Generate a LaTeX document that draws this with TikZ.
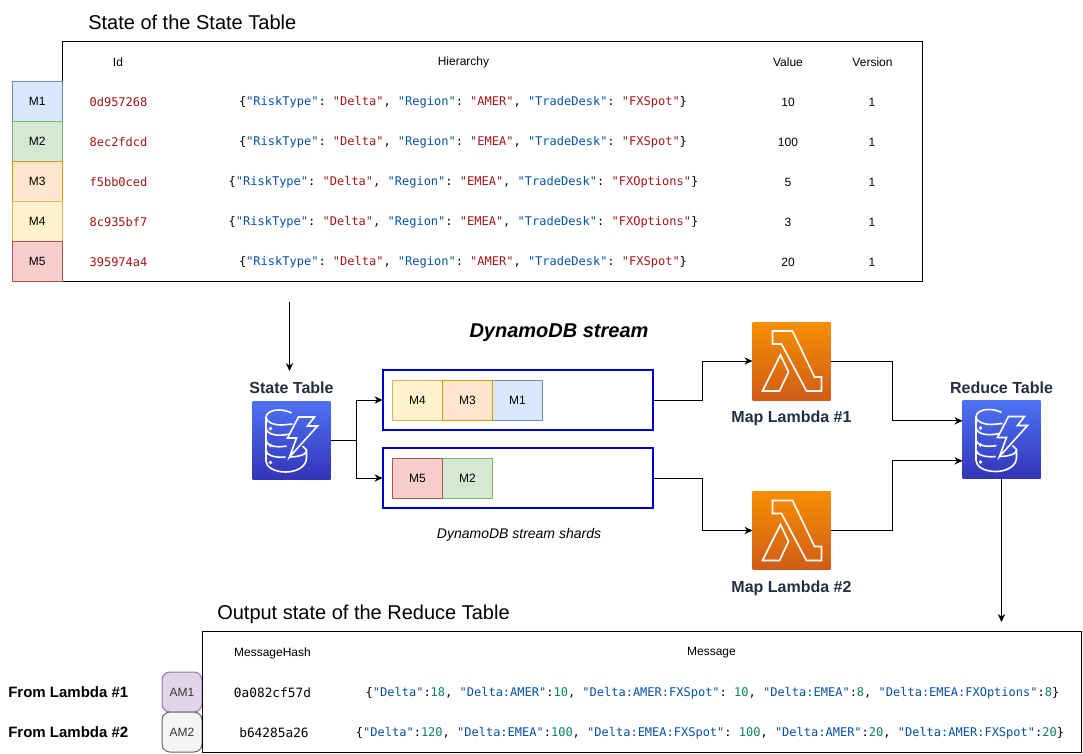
\documentclass[tikz,border=0pt]{standalone}
\usepackage{fontspec}
\usepackage{xcolor}
\usepackage{tikz}
\usetikzlibrary{arrows.meta,positioning}
\setmainfont{Liberation Sans}
\newfontfamily\jsonfont{DejaVu Sans Mono}
\definecolor{awsink}{HTML}{232f3e}
\definecolor{shardblue}{HTML}{0000cc}
\definecolor{jsonblue}{HTML}{0451a5}
\definecolor{jsonred}{HTML}{a31515}
\definecolor{jsongreen}{HTML}{098658}
\definecolor{dynamotop}{HTML}{4d72f3}
\definecolor{dynamobot}{HTML}{3334b9}
\definecolor{lambdatop}{HTML}{f78e04}
\definecolor{lambdabot}{HTML}{d05c17}
\definecolor{bluefill}{HTML}{dae8fc}
\definecolor{blueline}{HTML}{6c8ebf}
\definecolor{greenfill}{HTML}{d5e8d4}
\definecolor{greenline}{HTML}{82b366}
\definecolor{orangefill}{HTML}{ffe6cc}
\definecolor{orangeline}{HTML}{d79b00}
\definecolor{yellowfill}{HTML}{fff2cc}
\definecolor{yellowline}{HTML}{d6b656}
\definecolor{redfill}{HTML}{f8cecc}
\definecolor{redline}{HTML}{b85450}
\definecolor{purplefill}{HTML}{e1d5e7}
\definecolor{purpleline}{HTML}{9673a6}
\definecolor{greyfill}{HTML}{f5f5f5}
\definecolor{greyline}{HTML}{666666}
\newcommand{\jkey}[1]{\textcolor{jsonblue}{"#1"}}
\newcommand{\jval}[1]{\textcolor{jsonred}{"#1"}}
\newcommand{\jnum}[1]{\textcolor{jsongreen}{#1}}
\newcommand{\jrow}[2]{\{\jkey{RiskType}: \jval{Delta}, \jkey{Region}: \jval{#1}, \jkey{TradeDesk}: \jval{#2}\}}

\begin{document}
\begin{tikzpicture}[
  x=0.75pt, y=0.75pt,
  tablebox/.style={rectangle, draw=black, line width=0.75pt, inner sep=0pt, outer sep=0pt},
  msg/.style={rectangle, line width=0.75pt, minimum width=37.5pt, minimum height=30pt,
    inner sep=0pt, outer sep=0pt, font=\fontsize{9}{11}\selectfont},
  mblue/.style={msg, fill=bluefill, draw=blueline},
  mgreen/.style={msg, fill=greenfill, draw=greenline},
  morange/.style={msg, fill=orangefill, draw=orangeline},
  myellow/.style={msg, fill=yellowfill, draw=yellowline},
  mred/.style={msg, fill=redfill, draw=redline},
  head/.style={inner sep=0pt, font=\fontsize{9}{11}\selectfont},
  code/.style={inner sep=0pt, font=\fontsize{9}{11}\selectfont\jsonfont\frenchspacing},
  hash/.style={inner sep=0pt, font=\fontsize{9.6}{11}\selectfont\jsonfont},
  title/.style={inner sep=0pt, anchor=west, font=\fontsize{15}{18}\selectfont},
  iconlabel/.style={inner sep=0pt, text=awsink, font=\fontsize{12}{14}\selectfont\bfseries},
  fromlabel/.style={inner sep=0pt, anchor=west, font=\fontsize{11.25}{13}\selectfont\bfseries},
  amsg/.style={msg, rounded corners=6pt, minimum width=30pt, text=black!80},
  shard/.style={rectangle, draw=shardblue, line width=1.5pt, minimum width=202.5pt, minimum height=45pt,
    inner sep=0pt, outer sep=0pt},
  dynamo/.style={rectangle, minimum size=58.5pt, inner sep=0pt, outer sep=0pt,
    top color=dynamotop, bottom color=dynamobot},
  lambda/.style={rectangle, minimum size=58.5pt, inner sep=0pt, outer sep=0pt,
    top color=lambdatop, bottom color=lambdabot},
  glyph/.style={draw=white, line width=1.2pt, line join=miter},
  arr/.style={-{Stealth[length=6pt,width=5.5pt]}, line width=0.75pt, color=black},
  dynamoglyph/.pic={
    \draw[glyph] (39,-12) .. controls (35,-10) and (31,-9) .. (26,-9) .. controls (18,-9) and (13.5,-12.5) .. (13.5,-16.5)
      .. controls (13.5,-21) and (21,-24) .. (29,-24) -- (40,-23);
    \draw[glyph] (13.5,-16.5) -- (13.5,-60) .. controls (13.5,-66) and (22,-71) .. (33,-71) .. controls (45,-71) and (54,-65) .. (54,-57)
      -- (54,-49) -- (50,-45);
    \draw[glyph] (13.5,-28) .. controls (15,-33) and (24,-36) .. (37,-33);
    \draw[glyph] (13.5,-40) .. controls (15,-45) and (24,-47) .. (34,-45);
    \draw[glyph] (13.5,-50) .. controls (15,-55) and (24,-57) .. (33,-56);
    \draw[glyph] (37,-56) .. controls (44,-56) and (54,-54) .. (54,-50);
    \draw[glyph] (46,-16) -- (62,-16) -- (55,-25) -- (65,-25) -- (37,-56) -- (44,-37) -- (35,-37) -- cycle;
    \fill[white] (18,-27.5) circle (1.8) (18,-44.5) circle (1.8) (18,-61.5) circle (1.8);
  },
  lambdaglyph/.pic={
    \draw[glyph] (20,-9) -- (40,-9) -- (62,-55) -- (69,-55) -- (69,-69) -- (54,-69) -- (29,-22) -- (20,-22) -- cycle;
    \draw[glyph] (28,-33) -- (36,-50) -- (27,-69) -- (10,-69) -- cycle;
  }
]
\useasboundingbox (0,0) rectangle (1083,-754);
% source table
\node[title] (statetitle) at (88,-22) {State of the State Table};
\node[tablebox, minimum width=645pt, minimum height=180pt] (statetable) at (492,-161) {};
\node[mblue, minimum width=37.125pt] (mone) at (37.25,-101) {M1};
\node[mgreen, minimum width=37.125pt, below=0pt of mone] (mtwo) {M2};
\node[morange, minimum width=37.125pt, below=0pt of mtwo] (mthree) {M3};
\node[myellow, minimum width=37.125pt, below=0pt of mthree] (mfour) {M4};
\node[mred, minimum width=37.125pt, below=0pt of mfour] (mfive) {M5};
\node[head] (idhead) at (118,-62) {Id};
\node[head] (hierhead) at (463.5,-62) {Hierarchy};
\node[head] (valuehead) at (788,-62) {Value};
\node[head] (versionhead) at (872.5,-62) {Version};
\node[code, text=jsonred] (idone) at (118.5,-102) {0d957268};
\node[code, text=jsonred] (idtwo) at (118.5,-142) {8ec2fdcd};
\node[code, text=jsonred] (idthree) at (118.5,-182) {f5bb0ced};
\node[code, text=jsonred] (idfour) at (118.5,-222) {8c935bf7};
\node[code, text=jsonred] (idfive) at (118.5,-262) {395974a4};
\node[code] (hierone) at (463,-102) {\jrow{AMER}{FXSpot}};
\node[code] (hiertwo) at (463,-142) {\jrow{EMEA}{FXSpot}};
\node[code] (hierthree) at (463.5,-182) {\jrow{EMEA}{FXOptions}};
\node[code] (hierfour) at (463.5,-222) {\jrow{EMEA}{FXOptions}};
\node[code] (hierfive) at (463,-262) {\jrow{AMER}{FXSpot}};
\node[head] (valone) at (788,-102) {10};
\node[head] (valtwo) at (788,-142) {100};
\node[head] (valthree) at (788,-182) {5};
\node[head] (valfour) at (788,-222) {3};
\node[head] (valfive) at (788,-262) {20};
\node[head] (verone) at (872,-102) {1};
\node[head] (vertwo) at (872,-142) {1};
\node[head] (verthree) at (872,-182) {1};
\node[head] (verfour) at (872,-222) {1};
\node[head] (verfive) at (872,-262) {1};
% stream
\coordinate (statedrop) at (289.5,-302);
\coordinate (stateland) at (289.5,-371);
\node[dynamo] (statedb) at (291.5,-440) {};
\pic at (statedb.north west) {dynamoglyph};
\node[iconlabel, above=5pt of statedb] (statelabel) {State Table};
\node[inner sep=0pt, font=\fontsize{15}{18}\selectfont\bfseries\itshape] (streamtitle) at (559,-333) {DynamoDB stream};
\node[shard] (shardone) at (517.5,-400) {};
\node[shard] (shardtwo) at (517.5,-478) {};
\node[myellow] (sfour) at (417.5,-400) {M4};
\node[mblue] (sone) at (517.5,-400) {M1};
\node[morange] (sthree) at (467.5,-400) {M3};
\node[mgreen] (stwo) at (467.5,-478) {M2};
\node[mred] (sfive) at (417.5,-478) {M5};
\node[inner sep=0pt, font=\fontsize{10.5}{13}\selectfont\itshape] (shardnote) at (519,-535) {DynamoDB stream shards};
% lambdas
\node[lambda] (lambdaone) at (791.5,-361) {};
\pic at (lambdaone.north west) {lambdaglyph};
\node[iconlabel, below=8pt of lambdaone] (lambdaonelabel) {Map Lambda \#1};
\node[lambda] (lambdatwo) at (791.5,-530.5) {};
\pic at (lambdatwo.north west) {lambdaglyph};
\node[iconlabel, below=8pt of lambdatwo] (lambdatwolabel) {Map Lambda \#2};
\node[dynamo] (reducedb) at (1001.5,-439.5) {};
\pic at (reducedb.north west) {dynamoglyph};
\node[iconlabel, above=5pt of reducedb] (reducelabel) {Reduce Table};
\coordinate (reducedrop) at (1001.5,-622);
% output table
\node[title] (outtitle) at (217,-614) {Output state of the Reduce Table};
\node[amsg, fill=purplefill, draw=purpleline] (amone) at (182,-692) {AM1};
\node[amsg, fill=greyfill, draw=greyline] (amtwo) at (182,-732) {AM2};
\node[tablebox, fill=white, minimum width=659.25pt, minimum height=90.75pt] (outtable) at (641.5,-691.5) {};
\node[fromlabel] (fromone) at (8,-692) {From Lambda \#1};
\node[fromlabel] (fromtwo) at (8,-732) {From Lambda \#2};
\node[head] (hashhead) at (272.5,-653) {MessageHash};
\node[head] (messagehead) at (711.5,-653) {Message};
\node[hash] (hashone) at (272.5,-693) {0a082cf57d};
\node[hash] (hashtwo) at (274,-733) {b64285a26};
\node[code] (msgone) at (712.5,-693) {\{\jkey{Delta}:\jnum{18}, \jkey{Delta:AMER}:\jnum{10}, \jkey{Delta:AMER:FXSpot}: \jnum{10}, \jkey{Delta:EMEA}:\jnum{8}, \jkey{Delta:EMEA:FXOptions}:\jnum{8}\}};
\node[code] (msgtwo) at (710,-733) {\{\jkey{Delta}:\jnum{120}, \jkey{Delta:EMEA}:\jnum{100}, \jkey{Delta:EMEA:FXSpot}: \jnum{100}, \jkey{Delta:AMER}:\jnum{20}, \jkey{Delta:AMER:FXSpot}:\jnum{20}\}};
% connectors
\draw[arr] (statedrop) -- (stateland);
\draw[arr] (statedb.east) -- ++(26,0) |- (shardone.west);
\draw[arr] (statedb.east) -- ++(26,0) |- (shardtwo.west);
\draw[arr] (shardone.east) -- ++(49.5,0) |- (lambdaone.west);
\draw[arr] (shardtwo.east) -- ++(49.5,0) |- (lambdatwo.west);
\draw[arr] (lambdaone.east) -- ++(61.5,0) |- ([yshift=14pt]reducedb.west);
\draw[arr] (lambdatwo.east) -- ++(61.5,0) |- ([yshift=-16pt]reducedb.west);
\draw[arr] (reducedb.south) -- (reducedrop);
\end{tikzpicture}
\end{document}
